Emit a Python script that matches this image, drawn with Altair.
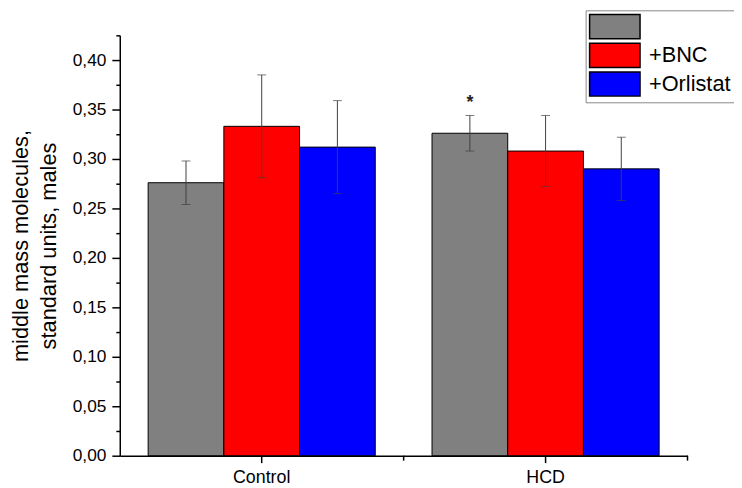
import altair as alt
import pandas as pd

# ---- data ----
groups = ["Control", "HCD"]
treatments = ["none", "+BNC", "+Orlistat"]
control_means = [0.276, 0.333, 0.312]
control_errors = [0.022, 0.052, 0.047]
hcd_means = [0.326, 0.308, 0.290]
hcd_errors = [0.018, 0.036, 0.032]
control_marks = ["", "", ""]
hcd_marks = ["*", "", ""]
colors = ["#808080", "#ff0000", "#0000ff"]
y_tick_values = [0.0, 0.025, 0.05, 0.075, 0.10, 0.125, 0.15, 0.175, 0.20,
                 0.225, 0.25, 0.275, 0.30, 0.325, 0.35, 0.375, 0.40, 0.425]
y_title = ["middle mass molecules,", "standard units, males"]

rows = []
for g, means, errs, marks in [("Control", control_means, control_errors, control_marks),
                              ("HCD", hcd_means, hcd_errors, hcd_marks)]:
    for t, m, e, s in zip(treatments, means, errs, marks):
        rows.append({"group": g, "treatment": t, "mean": m, "err": e,
                     "low": m - e, "high": m + e, "mark": s})
df = pd.DataFrame(rows)
bounds_df = pd.DataFrame({"group": groups})

FONT = "Liberation Sans"
W, H = 574, 425
PAD_INNER, PAD_OUTER = 0.2, 0.1

xscale = alt.Scale(domain=groups, paddingInner=PAD_INNER, paddingOuter=PAD_OUTER)
xoff = alt.XOffset("treatment:N", sort=treatments,
                   scale=alt.Scale(domain=treatments, paddingInner=0, paddingOuter=0))
yscale = alt.Scale(domain=[0, 0.425], nice=False, zero=True)

major_test = "abs(round(datum.value * 1000) % 50) < 0.5"

x_axis = alt.Axis(title=None, labelFont=FONT, labelFontSize=18, labelColor="black",
                  tickSize=7, tickWidth=1.5, tickColor="black",
                  domainColor="black", domainWidth=1.5, labelPadding=6,
                  labelAngle=0, grid=False)
y_axis = alt.Axis(title=y_title, titleFont=FONT, titleFontSize=22, titleFontWeight="normal",
                  titleColor="black", titleLineHeight=28, titlePadding=12,
                  values=y_tick_values,
                  labelExpr=f"{major_test} ? replace(format(datum.value, '.2f'), '.', ',') : ''",
                  labelFont=FONT, labelFontSize=17.5, labelColor="black", labelPadding=6,
                  labelOverlap=False,
                  tickSize={"condition": {"test": major_test, "value": 8}, "value": 4},
                  tickWidth=1.5, tickColor="black",
                  domainColor="black", domainWidth=1.5, grid=False)


def xenc():
    return alt.X("group:N", sort=groups, scale=xscale, axis=x_axis)


def yenc(field):
    return alt.Y(field, scale=yscale, axis=y_axis)


base = alt.Chart(df)

bars = base.mark_bar(stroke="black", strokeWidth=1).encode(
    x=xenc(), xOffset=xoff, y=yenc("mean:Q"),
    color=alt.Color("treatment:N", sort=treatments,
                    scale=alt.Scale(domain=treatments, range=colors),
                    legend=alt.Legend(title=None, orient="none", legendX=471, legendY=-25.3,
                                      symbolType="M-1,-0.98H3.08V0.98H-1Z",
                                      symbolSize=625,
                                      symbolStrokeColor="black", symbolStrokeWidth=1.5,
                                      labelFont=FONT, labelFontSize=22, labelColor="black",
                                      labelOffset=34, padding=3, rowPadding=-2.75,
                                      strokeColor="#888888", fillColor="white",
                                      labelExpr="datum.label == 'none' ? '' : datum.label")),
)

whisk = base.mark_rule(color="#404040", strokeWidth=1).encode(
    x=xenc(), xOffset=xoff, y=yenc("low:Q"), y2="high:Q")
cap_hi = base.mark_tick(color="#404040", size=9, thickness=1).encode(
    x=xenc(), xOffset=xoff, y=yenc("high:Q"))
cap_lo = base.mark_tick(color="#404040", size=9, thickness=1).encode(
    x=xenc(), xOffset=xoff, y=yenc("low:Q"))
stars = base.mark_text(font=FONT, fontSize=18, fontWeight="bold", color="#222222",
                       baseline="middle", dy=-13).encode(
    x=xenc(), xOffset=xoff, y=yenc("high:Q"), text="mark:N")
# category boundary ticks (half a padding step beyond each band's end)
step = W / (len(groups) - PAD_INNER + 2 * PAD_OUTER)
bound_ticks = alt.Chart(bounds_df).mark_rule(
    color="black", strokeWidth=1.5, xOffset=step * PAD_INNER / 2).encode(
    x=alt.X("group:N", sort=groups, scale=xscale, axis=x_axis, bandPosition=1),
    y=alt.value(H), y2=alt.value(H + 5))

chart = alt.layer(bars, whisk, cap_hi, cap_lo, stars, bound_ticks).properties(
    width=W, height=H,
    background="white",
    autosize=alt.AutoSizeParams(type="none"),
    padding={"left": 113, "top": 25, "right": 47, "bottom": 30},
).configure_view(stroke=None)

chart.save("out.html", embed_options={"renderer": "svg", "actions": False})
